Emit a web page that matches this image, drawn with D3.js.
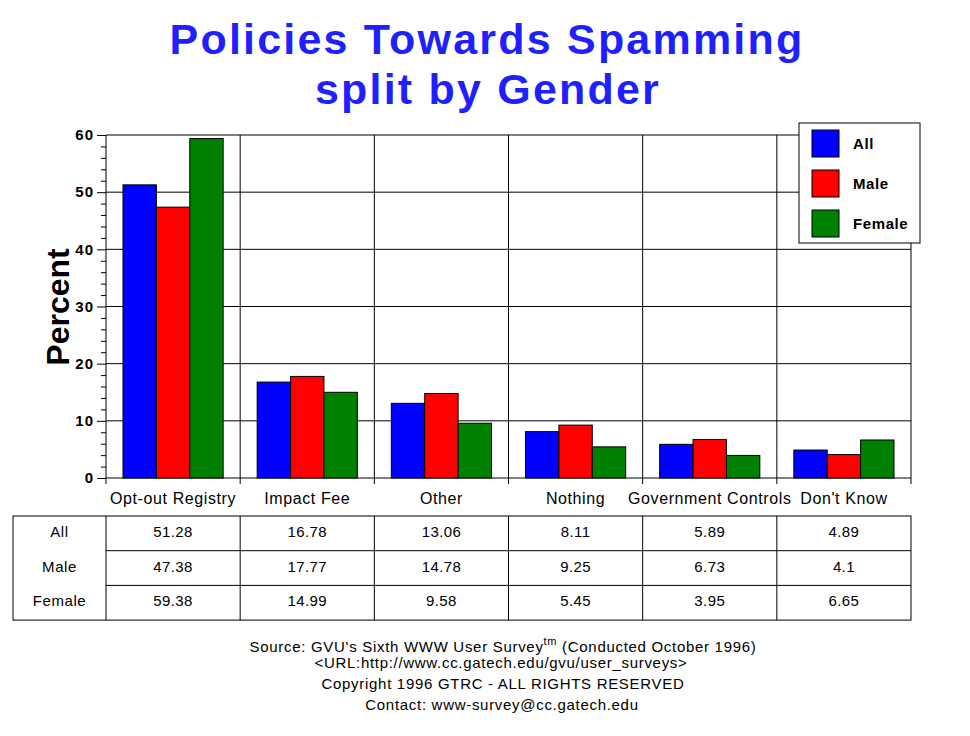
<!DOCTYPE html>
<html>
<head>
<meta charset="utf-8">
<script src="https://cdn.jsdelivr.net/npm/d3@7"></script>
<style>
  body { margin: 0; background: #fff; }
  text { font-family: "Liberation Sans", Arial, sans-serif; }
</style>
</head>
<body>
<svg width="970" height="736"></svg>
<script>
var categories = ["Opt-out Registry", "Impact Fee", "Other", "Nothing", "Government Controls", "Don't Know"];
var seriesNames = ["All", "Male", "Female"];
var allValues = [51.28, 16.78, 13.06, 8.11, 5.89, 4.89];
var maleValues = [47.38, 17.77, 14.78, 9.25, 6.73, 4.1];
var femaleValues = [59.38, 14.99, 9.58, 5.45, 3.95, 6.65];
var yTicks = [0, 10, 20, 30, 40, 50, 60];
var colors = ["#0000ff", "#ff0000", "#008000"];

var series = [allValues, maleValues, femaleValues];

var svg = d3.select("svg"),
  margin = { top: 135, left: 106 },
  width = 805,
  height = 343,
  g = svg.append("g")
    .attr("transform", "translate(" + margin.left + "," + margin.top + ")");

// title
svg.append("text")
  .attr("x", 487).attr("y", 54)
  .attr("text-anchor", "middle")
  .style("font-size", "43px").style("font-weight", "bold")
  .style("letter-spacing", "2.2px")
  .attr("fill", "#1f1fff")
  .text("Policies Towards Spamming");
svg.append("text")
  .attr("x", 488).attr("y", 104)
  .attr("text-anchor", "middle")
  .style("font-size", "43px").style("font-weight", "bold")
  .style("letter-spacing", "2.2px")
  .attr("fill", "#1f1fff")
  .text("split by Gender");

var x = d3.scaleBand().domain(categories).range([0, width]);
var xs = d3.scaleBand().domain(seriesNames).range([17, x.bandwidth() - 17]);
var y = d3.scaleLinear().domain([0, 60]).range([height, 0]);

// grid
g.selectAll(".hgrid")
  .data(yTicks)
  .enter().append("line")
  .attr("x1", 0).attr("x2", width)
  .attr("y1", d => y(d)).attr("y2", d => y(d))
  .attr("stroke", "#000");
g.selectAll(".vgrid")
  .data(categories)
  .enter().append("line")
  .attr("x1", d => x(d) + x.bandwidth()).attr("x2", d => x(d) + x.bandwidth())
  .attr("y1", 0).attr("y2", height)
  .attr("stroke", "#000");

// y axis
var yAxis = g.append("g")
  .call(d3.axisLeft(y).tickValues(yTicks).tickSize(9).tickPadding(3));
yAxis.select(".domain").remove();
yAxis.selectAll("text")
  .style("font-size", "15px").style("font-weight", "bold")
  .style("letter-spacing", "1px")
  .attr("fill", "#000");
g.append("line").attr("x1", 0).attr("x2", 0).attr("y1", 0).attr("y2", height).attr("stroke", "#000");
g.append("g")
  .call(d3.axisLeft(y).tickValues(d3.range(0, 61, 2).filter(d => d % 10 != 0)).tickSize(5).tickFormat(""))
  .select(".domain").remove();

// x axis ticks at category boundaries
g.selectAll(".xtick")
  .data([0].concat(categories.map(d => x(d) + x.bandwidth())))
  .enter().append("line")
  .attr("x1", d => d).attr("x2", d => d)
  .attr("y1", height).attr("y2", height + 6)
  .attr("stroke", "#000");
g.selectAll(".xlabel")
  .data(categories)
  .enter().append("text")
  .attr("x", d => x(d) + x.bandwidth() / 2)
  .attr("y", height + 26)
  .attr("text-anchor", "middle")
  .style("font-size", "16px")
  .style("letter-spacing", "0.6px")
  .text(d => d);

// bars
var groups = g.selectAll(".grp")
  .data(categories)
  .enter().append("g")
  .attr("transform", d => "translate(" + x(d) + ",0)");
groups.selectAll("rect")
  .data((c, i) => seriesNames.map((s, j) => ({ s: s, v: series[j][i], c: colors[j] })))
  .enter().append("rect")
  .attr("x", d => xs(d.s))
  .attr("y", d => y(d.v))
  .attr("width", xs.bandwidth())
  .attr("height", d => height - y(d.v))
  .attr("fill", d => d.c)
  .attr("stroke", "#000");

// y title
svg.append("text")
  .attr("transform", "translate(69,307) rotate(-90)")
  .attr("text-anchor", "middle")
  .style("font-size", "32px").style("font-weight", "bold")
  .text("Percent");

// legend
var legend = svg.append("g").attr("transform", "translate(799,123)");
legend.append("rect").attr("width", 121).attr("height", 120)
  .attr("fill", "#fff").attr("stroke", "#000");
seriesNames.forEach(function(s, i) {
  legend.append("rect")
    .attr("x", 13).attr("y", 7 + i * 40)
    .attr("width", 27).attr("height", 27)
    .attr("fill", colors[i]).attr("stroke", "#000");
  legend.append("text")
    .attr("x", 54).attr("y", 26 + i * 40)
    .style("font-size", "15px").style("font-weight", "bold")
    .style("letter-spacing", "0.6px")
    .text(s);
});

// data table
var tbl = svg.append("g").attr("transform", "translate(13,516)");
var rowH = 34.7, firstW = 93;
tbl.append("rect").attr("width", 898).attr("height", rowH * 3)
  .attr("fill", "none").attr("stroke", "#000");
[1, 2].forEach(function(r) {
  tbl.append("line").attr("x1", firstW).attr("x2", 898)
    .attr("y1", r * rowH).attr("y2", r * rowH).attr("stroke", "#000");
});
tbl.selectAll(".colline")
  .data(categories)
  .enter().append("line")
  .attr("x1", d => firstW + x(d)).attr("x2", d => firstW + x(d))
  .attr("y1", 0).attr("y2", rowH * 3).attr("stroke", "#000");
seriesNames.forEach(function(s, r) {
  tbl.append("text")
    .attr("x", firstW / 2).attr("y", r * rowH + 21)
    .attr("text-anchor", "middle").style("font-size", "15px")
    .style("letter-spacing", "0.6px")
    .text(s);
  tbl.selectAll(".cell" + r)
    .data(series[r])
    .enter().append("text")
    .attr("x", (d, i) => firstW + x(categories[i]) + x.bandwidth() / 2)
    .attr("y", r * rowH + 21)
    .attr("text-anchor", "middle").style("font-size", "15px")
    .style("letter-spacing", "0.4px")
    .text(d => d);
});

// footer
var foot = svg.append("g").style("font-size", "15px")
  .style("letter-spacing", "0.7px").attr("text-anchor", "middle");
var f1 = foot.append("text").attr("x", 503).attr("y", 652);
f1.append("tspan").text("Source: GVU's Sixth WWW User Survey");
f1.append("tspan").attr("dy", -7).style("font-size", "11px").text("tm");
f1.append("tspan").attr("dy", 7).text("  (Conducted October 1996)");
foot.append("text").attr("x", 501).attr("y", 668).text("<URL:http://www.cc.gatech.edu/gvu/user_surveys>");
foot.append("text").attr("x", 503).attr("y", 689).text("Copyright 1996 GTRC -  ALL RIGHTS RESERVED");
foot.append("text").attr("x", 502).attr("y", 710).text("Contact: www-survey@cc.gatech.edu");
</script>
</body>
</html>
